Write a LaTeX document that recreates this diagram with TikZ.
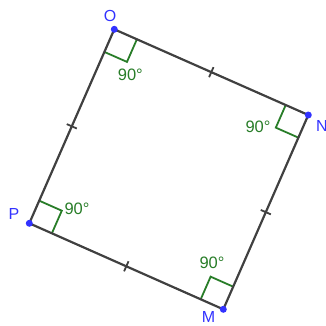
\documentclass[tikz,border=0pt]{standalone}
\usepackage{fontspec}
\setmainfont{Liberation Sans}
\usetikzlibrary{calc}
\definecolor{ggreen}{RGB}{40,125,40}
\definecolor{gblue}{RGB}{50,50,255}
\begin{document}
\begin{tikzpicture}[x=1pt,y=-1pt,
  seg/.style={draw=black!75, line width=2.2pt},
  ramark/.style={draw=ggreen, line width=1.8pt},
  tick/.style={draw=black!75, line width=1.8pt},
  ptdot/.style={circle, fill=gblue, inner sep=0pt, minimum size=7pt},
  ptlabel/.style={text=gblue, font=\fontsize{16}{16}\selectfont, inner sep=0pt},
  anglabel/.style={text=ggreen, font=\fontsize{16.5}{16.5}\selectfont, inner sep=0pt}]
\useasboundingbox (0,0) rectangle (326,325);
\coordinate (O) at (114.3,29.3);
\coordinate (N) at (308.3,115);
\coordinate (M) at (223.3,309.3);
\coordinate (P) at (29.3,223.3);
% right angle marks
\draw[ramark] ($(O)!24.7pt!(N)$) -- ($(O)!24.7pt!(N)+(O)!24.7pt!(P)-(O)$) -- ($(O)!24.7pt!(P)$);
\draw[ramark] ($(N)!24.7pt!(O)$) -- ($(N)!24.7pt!(O)+(N)!24.7pt!(M)-(N)$) -- ($(N)!24.7pt!(M)$);
\draw[ramark] ($(M)!24.7pt!(N)$) -- ($(M)!24.7pt!(N)+(M)!24.7pt!(P)-(M)$) -- ($(M)!24.7pt!(P)$);
\draw[ramark] ($(P)!24.7pt!(M)$) -- ($(P)!24.7pt!(M)+(P)!24.7pt!(O)-(P)$) -- ($(P)!24.7pt!(O)$);
% sides
\draw[seg] (O) -- (N) -- (M) -- (P) -- cycle;
% ticks
\draw[tick] ($(O)!0.5!(N)!5.5pt!90:(N)$) -- ($(O)!0.5!(N)!5.5pt!-90:(N)$);
\draw[tick] ($(N)!0.5!(M)!5.5pt!90:(M)$) -- ($(N)!0.5!(M)!5.5pt!-90:(M)$);
\draw[tick] ($(M)!0.5!(P)!5.5pt!90:(P)$) -- ($(M)!0.5!(P)!5.5pt!-90:(P)$);
\draw[tick] ($(P)!0.5!(O)!5.5pt!90:(O)$) -- ($(P)!0.5!(O)!5.5pt!-90:(O)$);
% points
\node[ptdot] (o) at (O) {};
\node[ptdot] (n) at (N) {};
\node[ptdot] (m) at (M) {};
\node[ptdot] (p) at (P) {};
\node[ptlabel] (lo) at (110,16) {O};
\node[ptlabel, anchor=west] (ln) at (316,125.5) {N};
\node[ptlabel] (lm) at (208.5,317) {M};
\node[ptlabel] (lp) at (14,213.5) {P};
\node[anglabel] (ao) at (130.3,75) {90°};
\node[anglabel] (an) at (258,127) {90°};
\node[anglabel] (am) at (212,263) {90°};
\node[anglabel] (ap) at (77,208.5) {90°};
\end{tikzpicture}
\end{document}
